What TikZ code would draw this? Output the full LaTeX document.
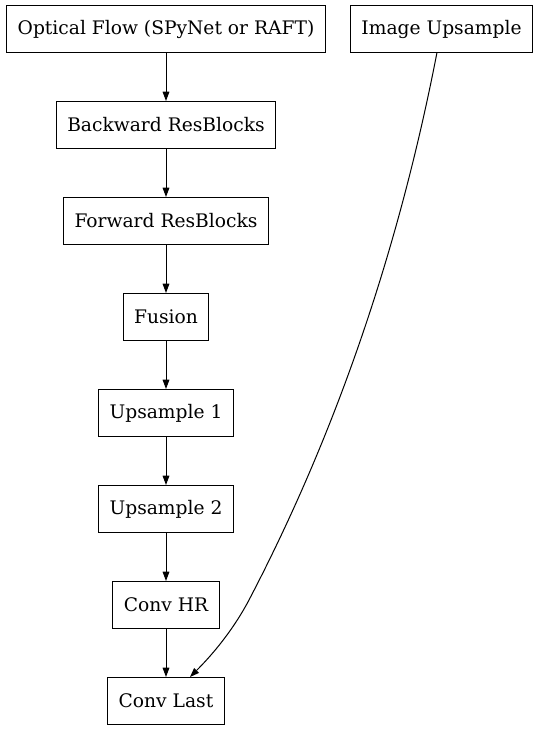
\documentclass[tikz,border=0pt]{standalone}
\usepackage{fontspec}
\setmainfont{DejaVu Serif}
\usetikzlibrary{arrows.meta,positioning}

\begin{document}
\begin{tikzpicture}[x=0.75pt,y=-0.75pt,->,>={Triangle[length=7pt,width=5pt]},
                    line width=0.75pt,node distance=36pt,
                    every node/.append style={font=\fontsize{14}{17}\selectfont}]
  \tikzstyle{block}=[draw=black,rectangle,minimum height=35.25pt,inner xsep=8.3pt]
  \useasboundingbox (0,0) rectangle (541,731);

  \node[block] (OF) at (166,29)    {Optical Flow (SPyNet or RAFT)};
  \node[block] (IU) [right=18pt of OF] {Image Upsample};
  \node[block] (BR) [below=of OF]  {Backward ResBlocks};
  \node[block] (FR) [below=of BR]  {Forward ResBlocks};
  \node[block] (FU) [below=of FR]  {Fusion};
  \node[block] (U1) [below=of FU]  {Upsample 1};
  \node[block] (U2) [below=of U1]  {Upsample 2};
  \node[block] (HR) [below=of U2]  {Conv HR};
  \node[block] (CL) [below=of HR]  {Conv Last};
  \coordinate (K) at (249,600);

  \path (OF) edge (BR)
        (BR) edge (FR)
        (FR) edge (FU)
        (FU) edge (U1)
        (U1) edge (U2)
        (U2) edge (HR)
        (HR) edge (CL);
  \draw (IU) .. controls (402,233) and (343,420) .. (K)
             .. controls (239,619) and (222,645) .. (CL);
\end{tikzpicture}
\end{document}
